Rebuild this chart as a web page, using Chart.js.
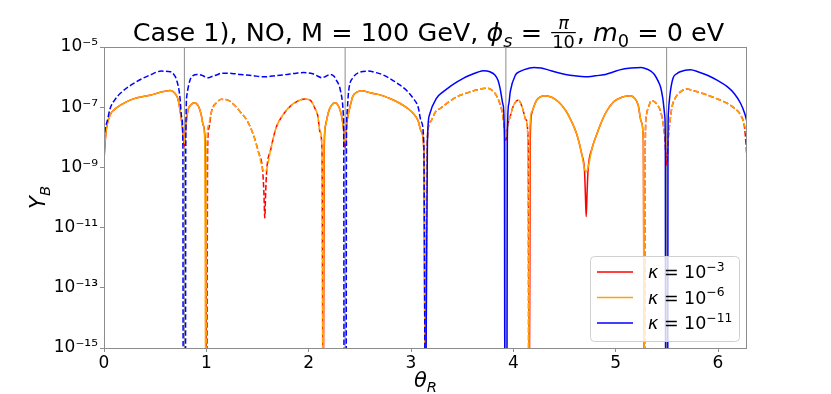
<!DOCTYPE html>
<html><head><meta charset="utf-8">
<script src="https://cdn.jsdelivr.net/npm/chart.js@4/dist/chart.umd.min.js"></script>
<style>html,body{margin:0;padding:0;background:#fff}#wrap{width:831px;height:394px}</style>
</head><body><div id="wrap"><canvas id="c" width="831" height="394"></canvas></div>
<script>
// ---------- data (signed Y_B; negative values are drawn dashed as |Y_B|, 0 = falls below the axis) ----------
const xTickValues = [0, 1, 2, 3, 4, 5, 6];
const yTickValues = [1e-15, 1e-13, 1e-11, 1e-9, 1e-7, 1e-5];
const verticalLines = [Math.PI/4, 3*Math.PI/4, 5*Math.PI/4, 7*Math.PI/4];
const seriesNames = ['κ = 10⁻³', 'κ = 10⁻⁶', 'κ = 10⁻¹¹'];
const seriesExponents = ['−3', '−6', '−11'];

const thetaOrange = [0.00,0.02,0.06,0.10,0.16,0.28,0.45,0.58,0.65,0.69,0.72,0.74,0.765,0.785,0.80,0.82,0.85,0.88,0.92,0.95,0.97,0.985,0.995,1.005,1.02,1.05,1.10,1.15,1.22,1.28,1.33,1.40,1.46,1.51,1.55,1.571,1.59,1.63,1.68,1.74,1.81,1.88,1.96,2.02,2.06,2.09,2.11,2.13,2.14,2.15,2.165,2.19,2.22,2.26,2.29,2.32,2.34,2.356,2.37,2.38,2.41,2.43,2.47,2.52,2.60,2.70,2.80,2.89,2.96,3.02,3.07,3.10,3.125,3.1416,3.155,3.19,3.24,3.29,3.37,3.45,3.55,3.65,3.74,3.82,3.86,3.89,3.91,3.927,3.945,3.97,4.00,4.05,4.09,4.12,4.14,4.15,4.16,4.18,4.23,4.31,4.38,4.44,4.51,4.57,4.62,4.67,4.695,4.712,4.73,4.77,4.82,4.85,4.90,4.98,5.06,5.14,5.19,5.22,5.25,5.27,5.28,5.29,5.30,5.33,5.35,5.38,5.41,5.44,5.46,5.48,5.498,5.515,5.53,5.55,5.58,5.63,5.69,5.79,5.89,5.99,6.09,6.16,6.22,6.26,6.283];
const valueOrange = [2.5e-9,1.6e-8,5.5e-8,8.3e-8,1.17e-7,1.86e-7,2.5e-7,3.3e-7,3.6e-7,2.95e-7,2.0e-7,9.3e-8,2.5e-8,6.3e-9,2.5e-8,7.9e-8,1.2e-7,1.41e-7,1.12e-7,5.6e-8,2.5e-8,6.3e-9,0,-6.3e-9,-2.5e-8,-7.1e-8,-1.41e-7,-1.82e-7,-1.66e-7,-1.12e-7,-7.1e-8,-3.5e-8,-1.2e-8,-3.2e-9,-8.9e-10,-7.1e-10,-8.9e-10,-4.0e-9,-2.0e-8,-5.0e-8,-1.0e-7,-1.51e-7,-1.86e-7,-1.66e-7,-9.3e-8,-5.0e-8,-1.55e-8,-5.0e-9,0,5.0e-9,2.5e-8,6.3e-8,1.12e-7,1.41e-7,1.12e-7,5.5e-8,2.0e-8,6.3e-9,2.5e-8,4.4e-8,1.26e-7,2.24e-7,3.16e-7,3.55e-7,3.0e-7,2.57e-7,1.9e-7,1.35e-7,9.5e-8,6.3e-8,3.5e-8,1.55e-8,5.0e-9,0,-5.0e-9,-3.3e-8,-7.1e-8,-9.3e-8,-1.51e-7,-2.24e-7,-3.0e-7,-3.8e-7,-4.3e-7,-2.9e-7,-1.58e-7,-7.1e-8,-2.5e-8,-1.0e-8,-2.5e-8,-5.0e-8,-1.12e-7,-1.74e-7,-9.3e-8,-4.0e-8,-1.26e-8,0,1.26e-8,7.1e-8,1.74e-7,2.4e-7,2.1e-7,1.51e-7,7.9e-8,3.3e-8,1.26e-8,2.6e-9,9.0e-10,7.1e-10,1.0e-9,4.4e-9,1.4e-8,2.6e-8,6.3e-8,1.51e-7,2.14e-7,2.4e-7,1.9e-7,1.17e-7,3.3e-8,7.9e-9,0,-1.0e-8,-5.5e-8,-1.26e-7,-1.66e-7,-1.51e-7,-1.17e-7,-7.1e-8,-3.3e-8,-1.26e-8,-5.5e-9,-1.26e-8,-3.3e-8,-1.0e-7,-1.95e-7,-3.16e-7,-4.0e-7,-3.3e-7,-2.57e-7,-1.9e-7,-1.35e-7,-9.3e-8,-5.5e-8,-2.5e-8,-1.2e-8];

const thetaRed = [0.00,0.02,0.06,0.10,0.16,0.28,0.45,0.58,0.65,0.69,0.72,0.74,0.765,0.785,0.80,0.82,0.85,0.88,0.92,0.95,0.97,0.99,1.003,1.013,1.025,1.05,1.10,1.15,1.22,1.28,1.33,1.40,1.46,1.51,1.55,1.562,1.571,1.580,1.59,1.63,1.68,1.74,1.81,1.88,1.96,2.02,2.06,2.09,2.11,2.13,2.142,2.152,2.165,2.19,2.22,2.26,2.29,2.32,2.34,2.356,2.37,2.38,2.41,2.43,2.47,2.52,2.60,2.70,2.80,2.89,2.96,3.02,3.07,3.10,3.125,3.1416,3.155,3.19,3.24,3.29,3.37,3.45,3.55,3.65,3.74,3.82,3.86,3.89,3.91,3.927,3.945,3.97,4.00,4.05,4.09,4.12,4.145,4.155,4.165,4.18,4.23,4.31,4.38,4.44,4.51,4.57,4.62,4.67,4.695,4.703,4.712,4.721,4.73,4.77,4.82,4.85,4.90,4.98,5.06,5.14,5.19,5.22,5.25,5.27,5.28,5.29,5.30,5.33,5.35,5.38,5.41,5.44,5.46,5.48,5.498,5.515,5.53,5.55,5.58,5.63,5.69,5.79,5.89,5.99,6.09,6.16,6.22,6.26,6.283];
const valueRed = [1.8e-9,1.5e-8,5.5e-8,8.3e-8,1.17e-7,1.86e-7,2.5e-7,3.3e-7,3.6e-7,2.95e-7,2.0e-7,9.3e-8,2.3e-8,5.0e-9,2.3e-8,7.9e-8,1.2e-7,1.41e-7,1.12e-7,5.6e-8,2.5e-8,5.0e-9,0,-5.0e-9,-2.0e-8,-7.1e-8,-1.41e-7,-1.82e-7,-1.66e-7,-1.12e-7,-7.1e-8,-3.5e-8,-1.2e-8,-3.2e-9,-8.0e-10,-1.6e-10,-2.1e-11,-1.6e-10,-8.0e-10,-4.0e-9,-2.0e-8,-5.0e-8,-1.0e-7,-1.51e-7,-1.86e-7,-1.66e-7,-9.3e-8,-5.0e-8,-1.55e-8,-4.0e-9,0,4.0e-9,2.5e-8,6.3e-8,1.12e-7,1.41e-7,1.12e-7,5.5e-8,2.0e-8,4.5e-9,2.5e-8,4.4e-8,1.26e-7,2.24e-7,3.16e-7,3.55e-7,3.0e-7,2.57e-7,1.9e-7,1.35e-7,9.5e-8,6.3e-8,3.5e-8,1.55e-8,4.0e-9,0,-4.0e-9,-3.3e-8,-7.1e-8,-9.3e-8,-1.51e-7,-2.24e-7,-3.0e-7,-3.8e-7,-4.3e-7,-2.9e-7,-1.58e-7,-7.1e-8,-2.5e-8,-8.0e-9,-2.5e-8,-5.0e-8,-1.12e-7,-1.74e-7,-9.3e-8,-4.0e-8,-8.0e-9,0,8.0e-9,6.3e-8,1.74e-7,2.4e-7,2.1e-7,1.51e-7,7.9e-8,3.3e-8,1.26e-8,2.6e-9,8.0e-10,1.6e-10,2.3e-11,1.6e-10,8.0e-10,4.4e-9,1.4e-8,2.6e-8,6.3e-8,1.51e-7,2.14e-7,2.4e-7,1.9e-7,1.17e-7,3.3e-8,7.9e-9,0,-1.0e-8,-5.5e-8,-1.26e-7,-1.66e-7,-1.51e-7,-1.17e-7,-7.1e-8,-3.3e-8,-1.0e-8,-1.2e-9,-1.0e-8,-3.3e-8,-1.0e-7,-1.95e-7,-3.16e-7,-4.0e-7,-3.3e-7,-2.57e-7,-1.9e-7,-1.35e-7,-9.3e-8,-5.5e-8,-2.0e-8,-2.0e-9];

const thetaBlue = [0.00,0.01,0.03,0.06,0.10,0.16,0.29,0.45,0.56,0.65,0.69,0.71,0.74,0.76,0.771,0.774,0.796,0.799,0.81,0.84,0.87,0.91,0.95,0.99,1.02,1.06,1.10,1.15,1.25,1.33,1.45,1.56,1.68,1.79,1.88,1.95,2.04,2.09,2.13,2.17,2.21,2.25,2.27,2.30,2.32,2.34,2.343,2.346,2.366,2.369,2.375,2.39,2.44,2.50,2.58,2.66,2.73,2.81,2.89,2.96,3.02,3.07,3.10,3.125,3.1416,3.16,3.18,3.25,3.31,3.38,3.45,3.51,3.58,3.65,3.71,3.77,3.82,3.85,3.87,3.90,3.913,3.917,3.937,3.941,3.955,3.97,4.02,4.06,4.10,4.20,4.27,4.34,4.42,4.51,4.60,4.70,4.80,4.90,4.97,5.04,5.15,5.25,5.31,5.35,5.38,5.41,5.44,5.46,5.48,5.485,5.488,5.508,5.511,5.515,5.53,5.56,5.60,5.63,5.73,5.81,5.89,5.99,6.09,6.16,6.22,6.26,6.283];
const valueBlue = [-7.9e-9,-1.8e-8,-3.3e-8,-9.1e-8,-1.66e-7,-2.9e-7,-6.2e-7,-1.17e-6,-1.58e-6,-1.51e-6,-1.12e-6,-7.9e-7,-2.5e-7,-4.4e-8,-5.0e-9,0,0,-5.0e-9,-2.5e-7,-7.9e-7,-1.12e-6,-1.23e-6,-1.17e-6,-1.02e-6,-9.5e-7,-1.07e-6,-1.17e-6,-1.35e-6,-1.32e-6,-1.23e-6,-1.12e-6,-1.02e-6,-1.12e-6,-1.23e-6,-1.35e-6,-1.41e-6,-1.29e-6,-1.07e-6,-9.5e-7,-1.07e-6,-1.23e-6,-1.05e-6,-7.9e-7,-5.0e-7,-2.5e-7,-5.0e-8,-5.0e-9,0,0,-5.0e-9,-6.3e-8,-3.3e-7,-1.02e-6,-1.45e-6,-1.58e-6,-1.41e-6,-1.17e-6,-8.3e-7,-5.5e-7,-3.5e-7,-2.0e-7,-1.0e-7,-3.3e-8,-6.3e-9,0,6.3e-9,5.5e-8,2.0e-7,3.16e-7,4.8e-7,6.9e-7,9.1e-7,1.17e-6,1.45e-6,1.62e-6,1.51e-6,1.17e-6,7.9e-7,4.3e-7,1.17e-7,8.0e-9,0,0,8.0e-9,1.26e-7,3.3e-7,1.17e-6,1.51e-6,1.74e-6,2.1e-6,2.0e-6,1.74e-6,1.45e-6,1.23e-6,1.1e-6,1.02e-6,1.1e-6,1.23e-6,1.45e-6,1.74e-6,2.0e-6,2.1e-6,1.82e-6,1.51e-6,1.2e-6,7.9e-7,4.5e-7,2.0e-7,5.0e-8,6.0e-9,0,0,6.0e-9,6.3e-8,2.5e-7,9.1e-7,1.32e-6,1.51e-6,1.74e-6,1.48e-6,1.17e-6,7.9e-7,4.8e-7,2.8e-7,1.35e-7,6.3e-8,3.3e-8];

// ---------- rendering ----------
const FONT = "'DejaVu Sans', sans-serif";
const BELOW_AXIS = 1e-18;
const DASH = [5.5, 2.4];

function toPoints(th, vals){
  return th.map((t,i)=>({x:t, y: vals[i]===0 ? BELOW_AXIS : Math.abs(vals[i]), s: Math.sign(vals[i])}));
}
function segDash(ctx){
  const d = ctx.chart.data.datasets[ctx.datasetIndex].data;
  const s = d[ctx.p0DataIndex].s + d[ctx.p1DataIndex].s;
  return s < 0 ? DASH : undefined;
}
function curve(label, th, vals, color, order){
  return {label, data: toPoints(th, vals), borderColor: color, backgroundColor: color, borderWidth: 1.5,
    pointRadius: 0, fill: false, cubicInterpolationMode: 'monotone', order,
    segment: {borderDash: segDash}};
}
const supMap = {'-':'⁻','0':'⁰','1':'¹','2':'²','3':'³','4':'⁴','5':'⁵','6':'⁶','7':'⁷','8':'⁸','9':'⁹'};
function sup(n){ return String(n).split('').map(c=>supMap[c]).join(''); }

function partFont(p,S){ return (p.it?'italic ':'') + (S*(p.sc||1)).toFixed(1)+'px '+FONT; }
function partWidth(ctx,p,S){
  if (p.frac){
    ctx.font = partFont({it:true,sc:0.7},S); const a = ctx.measureText(p.num).width;
    ctx.font = partFont({sc:0.7},S); const b = ctx.measureText(p.den).width;
    return Math.max(a,b)+4;
  }
  ctx.font = partFont(p,S); return ctx.measureText(p.t).width;
}
function drawParts(ctx, parts, S, x, y, align){
  const ws = parts.map(p=>partWidth(ctx,p,S));
  const total = ws.reduce((a,b)=>a+b,0);
  let cx = align==='center' ? x-total/2 : (align==='right' ? x-total : x);
  ctx.textAlign='left'; ctx.textBaseline='alphabetic'; ctx.fillStyle='#000';
  parts.forEach((p,i)=>{
    if (p.frac){
      const bar = y - 0.33*S, w = ws[i];
      ctx.fillRect(cx+1, bar-0.6, w-2, 1.2);
      ctx.font = partFont({it:true,sc:0.7},S);
      const a = ctx.measureText(p.num).width;
      ctx.fillText(p.num, cx+(w-a)/2, bar-0.14*S);
      ctx.font = partFont({sc:0.7},S);
      const b = ctx.measureText(p.den).width;
      ctx.fillText(p.den, cx+(w-b)/2, bar+0.62*S);
    } else {
      ctx.font = partFont(p,S);
      ctx.fillText(p.t, cx, y+(p.dy||0)*S);
    }
    cx += ws[i];
  });
}

const decorPlugin = {
  id: 'decor',
  afterDraw(chart){
    const ctx = chart.ctx, a = chart.chartArea;
    ctx.save();
    // frame
    ctx.strokeStyle = '#8c8c8c'; ctx.lineWidth = 1;
    ctx.strokeRect(Math.round(a.left)+0.5, Math.round(a.top)+0.5, Math.round(a.right-a.left)-1, Math.round(a.bottom-a.top));
    // title
    drawParts(ctx, [
      {t:'Case 1), NO, M = 100 GeV, '}, {t:'ϕ',it:true}, {t:'s',it:true,sc:0.7,dy:0.22},
      {t:' = '}, {frac:true,num:'π',den:'10'}, {t:', '}, {t:'m',it:true}, {t:'0',sc:0.7,dy:0.22}, {t:' = 0 eV'}
    ], 25.5, (a.left+a.right)/2 + 3, 41, 'center');
    // axis titles
    drawParts(ctx, [{t:'θ',it:true},{t:'R',it:true,sc:0.7,dy:0.22}], 21, (a.left+a.right)/2, 387, 'center');
    ctx.save(); ctx.translate(45, (a.top+a.bottom)/2); ctx.rotate(-Math.PI/2);
    drawParts(ctx, [{t:'Y',it:true},{t:'B',it:true,sc:0.7,dy:0.22}], 21, 0, 0, 'center');
    ctx.restore();
    // legend
    const lx = 590, ly = 256, lw = 149, lh = 85;
    ctx.beginPath(); ctx.roundRect(lx+0.5, ly+0.5, lw, lh, 4);
    ctx.fillStyle = 'rgba(255,255,255,0.8)'; ctx.fill();
    ctx.strokeStyle = '#d0d0d0'; ctx.lineWidth = 1; ctx.stroke();
    const colors = ['#ff0000','#ffa500','#0000ff'];
    seriesExponents.forEach((e,i)=>{
      const yy = ly + 16 + i*25.5;
      ctx.strokeStyle = colors[i]; ctx.lineWidth = 1.5; ctx.setLineDash([]);
      ctx.beginPath(); ctx.moveTo(lx+7, yy); ctx.lineTo(lx+43, yy); ctx.stroke();
      drawParts(ctx, [{t:'κ',it:true},{t:' = 10'},{t:e,sc:0.7,dy:-0.42}], 17.5, lx+58, yy+6, 'left');
    });
    ctx.restore();
  }
};

const datasets = [
  curve(seriesNames[0], thetaRed, valueRed, '#ff0000', 3),
  curve(seriesNames[1], thetaOrange, valueOrange, '#ffa500', 2),
  curve(seriesNames[2], thetaBlue, valueBlue, '#0000ff', 1),
  ...verticalLines.map(v=>({label:'', data:[{x:v,y:yTickValues[0]},{x:v,y:yTickValues[yTickValues.length-1]}],
    borderColor:'#8c8c8c', borderWidth:1, pointRadius:0, order:10}))
];

new Chart(document.getElementById('c'), {
  type: 'line',
  data: {datasets},
  options: {
    responsive: false, animation: false, devicePixelRatio: 1,
    layout: {padding: {left: 0, right: 84, top: 47, bottom: 0}},
    plugins: {legend: {display: false}, tooltip: {enabled: false}, title: {display: false}},
    scales: {
      x: {type: 'linear', min: 0, max: 2*Math.PI,
        afterBuildTicks: s => { s.ticks = xTickValues.map(v=>({value:v})); },
        afterFit: s => { s.height = 46; },
        grid: {drawOnChartArea: false, drawTicks: true, tickLength: 4, tickColor: '#8c8c8c'},
        border: {display: false},
        ticks: {font: {family: FONT, size: 17}, color: '#000', padding: 1, maxRotation: 0}
      },
      y: {type: 'logarithmic', min: 1e-15, max: 1e-5,
        afterBuildTicks: s => { s.ticks = yTickValues.map(v=>({value:v})); },
        afterFit: s => { s.width = 104; },
        grid: {drawOnChartArea: false, drawTicks: true, tickLength: 4, tickColor: '#8c8c8c'},
        border: {display: false},
        ticks: {font: {family: FONT, size: 17}, color: '#000', padding: 2,
          callback: v => '10' + sup(Math.round(Math.log10(v)))}
      }
    }
  },
  plugins: [decorPlugin]
});
</script>
</body></html>
